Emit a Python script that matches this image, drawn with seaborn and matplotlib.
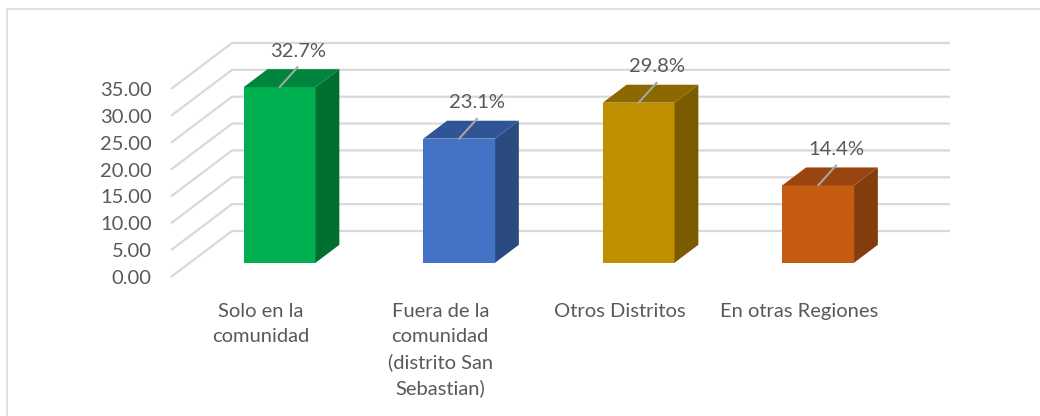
import matplotlib
matplotlib.use("Agg")
import matplotlib.pyplot as plt
import pandas as pd
import seaborn as sns
from matplotlib.patches import Polygon, Rectangle
from matplotlib.transforms import ScaledTranslation

# data
categories = ["Solo en la\ncomunidad",
              "Fuera de la\ncomunidad\n(distrito San\nSebastian)",
              "Otros Distritos",
              "En otras Regiones"]
values = [32.7, 23.1, 29.8, 14.4]
value_labels = ["32.7%", "23.1%", "29.8%", "14.4%"]
y_ticks = [0, 5, 10, 15, 20, 25, 30, 35]

front_colors = ["#00B050", "#4472C4", "#BF8F00", "#C55A11"]
top_colors = ["#00863C", "#2F5597", "#8C6900", "#9A4510"]
side_colors = ["#006F2F", "#2B4A80", "#7A5B00", "#833C0C"]

TEXT = "#595959"
GRID = "#d9d9d9"
WALL = (61, 46)          # depth of the fake 3d box, in pixels
T0, T1 = 0.31, 0.70      # bar front / back depth as share of the wall depth
FS = 14.5

sns.set_style("white")
plt.rcParams["font.family"] = ["Lato", "DejaVu Sans"]

fig = plt.figure(figsize=(10.4, 4.16), dpi=100)
ax = fig.add_axes([171 / 1040, 139 / 416, 718 / 1040, 188 / 416])

df = pd.DataFrame({"cat": categories, "val": values})
sns.barplot(data=df, x="cat", y="val", hue="cat", palette=front_colors,
            width=0.4, saturation=1, legend=False, ax=ax, zorder=3)
ax.set_xlim(-0.5, 3.5)
ax.set_ylim(0, 35)


def shifted(x, y, t):
    px, py = ax.transData.transform((x, y))
    return ax.transData.inverted().transform((px + WALL[0] * t, py + WALL[1] * t))


# gridlines: diagonal on the floor side + horizontal on the back wall
for v in y_ticks:
    b = shifted(-0.5, v, 1)
    e = shifted(3.5, v, 1)
    ax.plot([-0.5, b[0], e[0]], [v, b[1], e[1]], color=GRID, lw=1.6,
            zorder=1, clip_on=False, solid_capstyle="butt")

# extrude the bars
shift = ScaledTranslation(WALL[0] * T0 / 100, WALL[1] * T0 / 100, fig.dpi_scale_trans)
bars = list(ax.patches)
for i, p in enumerate(bars):
    x0, w, h = p.get_x(), p.get_width(), p.get_height()
    p.set_transform(ax.transData + shift)
    p.set_clip_on(False)
    p.set_edgecolor("none")
    side = [shifted(x0 + w, 0, T0), shifted(x0 + w, h, T0),
            shifted(x0 + w, h, T1), shifted(x0 + w, 0, T1)]
    top = [shifted(x0, h, T0), shifted(x0 + w, h, T0),
           shifted(x0 + w, h, T1), shifted(x0, h, T1)]
    ax.add_patch(Polygon(side, closed=True, facecolor=side_colors[i],
                         edgecolor="none", zorder=3, clip_on=False))
    ax.add_patch(Polygon(top, closed=True, facecolor=top_colors[i],
                         edgecolor="none", zorder=3, clip_on=False))

    # data label with leader line, anchored at the front top edge
    anchor = shifted(x0 + w / 2, h, T0)
    ax.annotate("", xy=anchor, xytext=(18, 20), textcoords="offset pixels",
                arrowprops=dict(arrowstyle="-", color="#a6a6a6", lw=1.5,
                                shrinkA=0, shrinkB=0),
                annotation_clip=False, zorder=4)
    ax.annotate(value_labels[i], xy=anchor, xytext=(18, 36),
                textcoords="offset pixels", ha="center", va="center",
                fontsize=FS, color=TEXT, annotation_clip=False, zorder=4)

# axes cosmetics
ax.set_yticks(y_ticks)
ax.set_yticklabels([f"{v:.2f}" for v in y_ticks])
ax.set_xlabel("")
ax.set_ylabel("")
ax.tick_params(axis="both", length=0, labelsize=FS, labelcolor=TEXT)
ax.tick_params(axis="y", pad=14)
ax.tick_params(axis="x", pad=19)
for lbl in ax.get_xticklabels():
    lbl.set_linespacing(1.55)
sns.despine(ax=ax, left=True, bottom=True)
ax.patch.set_alpha(0)

# chart area border
fig.add_artist(Rectangle((7 / 1040, -0.1), 1.2, (416 - 9) / 416 + 0.1,
                         transform=fig.transFigure, fill=False,
                         edgecolor=GRID, lw=1.2))

fig.savefig("out.png", dpi=100)
